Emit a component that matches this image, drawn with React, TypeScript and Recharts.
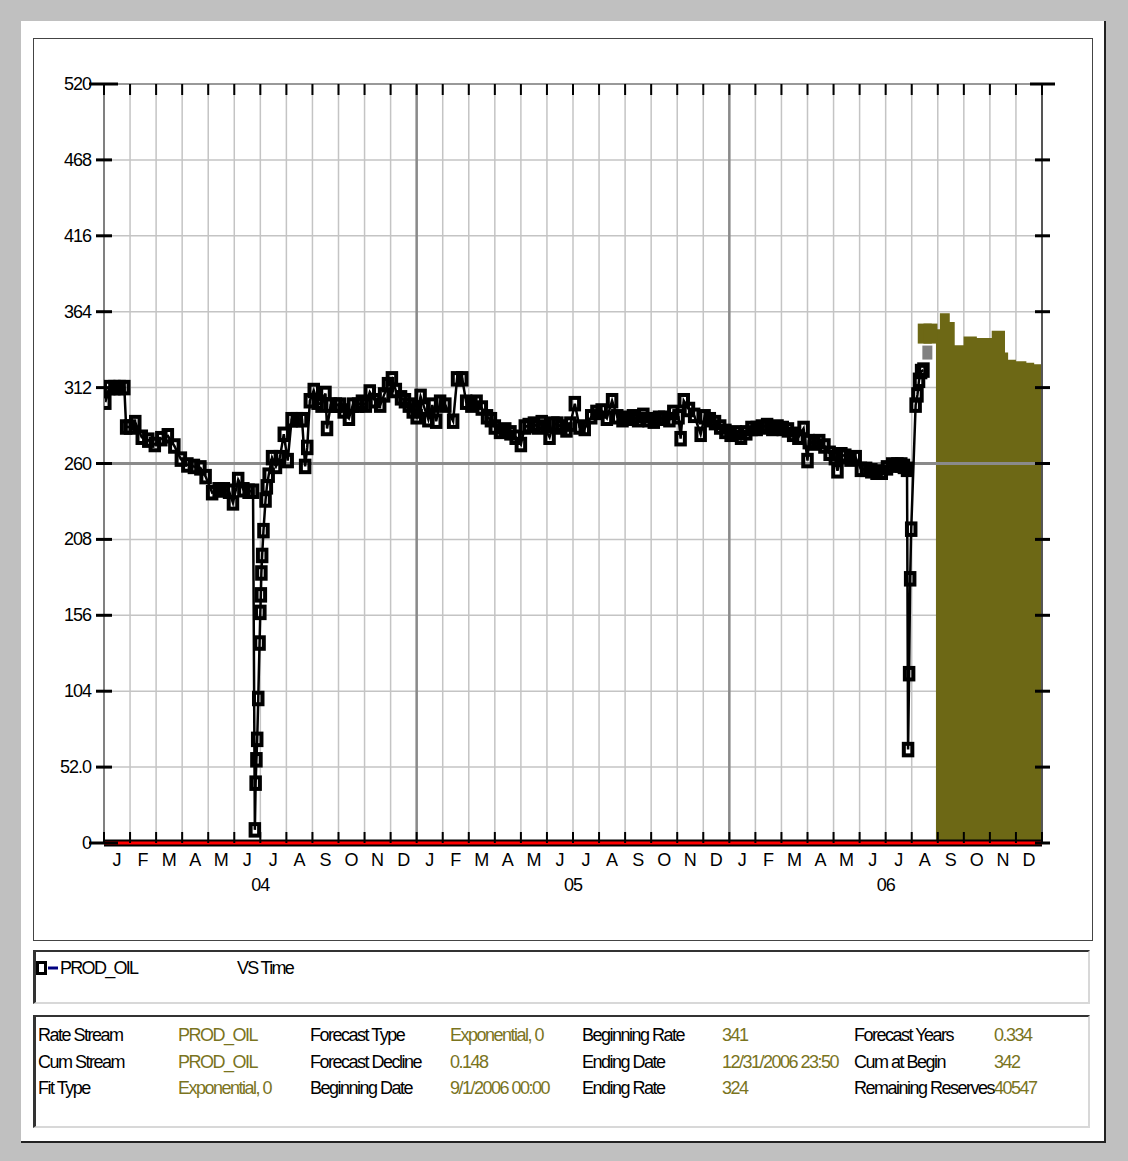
import React from "react";
import { ComposedChart, Line, Area, Scatter, XAxis, YAxis, CartesianGrid, ReferenceLine } from "recharts";

const monthLetters = ["J", "F", "M", "A", "M", "J", "J", "A", "S", "O", "N", "D"];
const yearLabels = ["04", "05", "06"];
const yTicks = [0, 52, 104, 156, 208, 260, 312, 364, 416, 468, 520];

// months since 1 Jan 2004
const prodMonths = [
  0.05, 0.2, 0.4, 0.6, 0.78, 0.85,
  1.0, 1.2, 1.45, 1.7,
  1.95, 2.2, 2.45, 2.7,
  2.95, 3.2, 3.45, 3.7,
  3.9, 4.15, 4.4, 4.6, 4.8,
  4.95, 5.15, 5.35, 5.55, 5.72,
  5.79, 5.82, 5.85, 5.88, 5.92, 5.97, 6.0, 6.02, 6.04, 6.07, 6.12, 6.2, 6.25,
  6.32, 6.45, 6.6, 6.75, 6.9,
  7.05, 7.2, 7.4, 7.6, 7.72, 7.8, 7.9,
  8.05, 8.2, 8.35, 8.5, 8.56, 8.7, 8.9,
  9.05, 9.2, 9.4, 9.55, 9.75, 9.9,
  10.05, 10.2, 10.4, 10.6, 10.75, 10.9,
  11.05, 11.2, 11.4, 11.55, 11.7, 11.85,
  12.0, 12.15, 12.3, 12.45, 12.6, 12.75, 12.9,
  13.1, 13.4, 13.55, 13.75, 13.9,
  14.1, 14.3, 14.5, 14.7, 14.85,
  15.0, 15.2, 15.4, 15.6, 15.8,
  16.0, 16.15, 16.3, 16.5, 16.65, 16.8,
  17.1, 17.25, 17.4, 17.55, 17.75, 17.9,
  18.07, 18.25, 18.45, 18.7, 18.9,
  19.1, 19.3, 19.5, 19.7, 19.9,
  20.1, 20.3, 20.5, 20.7, 20.9,
  21.1, 21.3, 21.5, 21.7, 21.85,
  22.05, 22.13, 22.25, 22.45, 22.65, 22.9,
  23.05, 23.25, 23.45, 23.65, 23.85,
  24.05, 24.25, 24.45, 24.65, 24.85,
  25.05, 25.25, 25.45, 25.65, 25.85,
  26.05, 26.25, 26.45, 26.65, 26.85,
  27.0, 27.05, 27.25, 27.45, 27.65, 27.85,
  28.05, 28.15, 28.3, 28.45, 28.65, 28.85,
  29.05, 29.25, 29.45, 29.65, 29.85,
  30.05, 30.25, 30.45, 30.6, 30.7, 30.82,
  30.86, 30.9, 30.94, 30.98, 31.15, 31.22, 31.28, 31.36, 31.45,
];
const prodOil = [
  302, 312, 312, 312, 312, 285,
  285, 288, 278, 276,
  273, 277, 279, 272,
  263, 259, 258, 257,
  251, 240, 242, 242, 241,
  233, 249, 242, 241, 241,
  9, 41, 57, 71, 99, 137, 158, 170, 185, 197, 214, 235, 244,
  252, 264, 258, 264, 280,
  262, 290, 290, 290, 258, 271, 303,
  310, 302, 300, 308, 284, 300, 300,
  300, 296, 291, 300, 300, 302,
  300, 309, 303, 300, 307, 314,
  318, 310, 305, 303, 300, 296,
  292, 306, 298, 290, 300, 289, 302,
  300, 289, 318, 318, 302,
  300, 302, 298, 292, 290,
  285, 282, 283, 281, 278,
  273, 285, 286, 287, 285, 288,
  278, 287, 287, 285, 283, 287,
  301, 285, 284, 292, 295,
  296, 291, 303, 292, 290,
  291, 292, 290, 293, 290,
  289, 291, 291, 290, 295,
  292, 277, 303, 297, 293, 280,
  292, 290, 288, 285, 282,
  280, 281, 278, 281, 284,
  284, 285, 286, 284, 285,
  284, 283, 280, 278, 284,
  262, 275, 274, 275, 272, 267,
  264, 255, 266, 265, 263, 264,
  256, 256, 255, 254, 254,
  257, 259, 259, 259, 258, 256,
  64, 116, 181, 215, 300, 307, 317, 323, 324,
];

const forecastMonths = [31.93, 32.08, 32.46, 32.65, 32.99, 33.5, 34.07, 34.58, 34.7, 35.0, 35.4, 35.7, 36.0];
const forecastRate = [352, 363, 357, 341, 347, 346, 351, 336, 331, 330, 329, 328, 327];

const startMonths = [31.5, 31.72];
const startRate = [349, 349];

const fitMonths = [31.6];
const fitRate = [336];

const infoColumns = [
  [["Rate Stream", "PROD_OIL"], ["Cum Stream", "PROD_OIL"], ["Fit Type", "Exponential, 0"]],
  [["Forecast Type", "Exponential, 0"], ["Forecast Decline", "0.148"], ["Beginning Date", "9/1/2006 00:00"]],
  [["Beginning Rate", "341"], ["Ending Date", "12/31/2006 23:50"], ["Ending Rate", "324"]],
  [["Forecast Years", "0.334"], ["Cum at Begin", "342"], ["Remaining Reserves", "40547"]],
];

const OLIVE = "#6d6815";
const VALUE_COLOR = "#7a741e";
const FONT = "'Liberation Sans', Arial, sans-serif";

const prodData = prodMonths.map((m, i) => ({ m, v: prodOil[i] }));
const forecastData = forecastMonths.map((m, i) => ({ m, v: forecastRate[i] }));
const startData = startMonths.map((m, i) => ({ m, v: startRate[i] }));
const fitData = fitMonths.map((m, i) => ({ m, v: fitRate[i] }));

const nMonths = monthLetters.length * yearLabels.length;
const boundaryTicks = Array.from({ length: nMonths + 1 }, (_, i) => i);
const bottomTicks = [...boundaryTicks, ...boundaryTicks.slice(0, nMonths).map((i) => i + 0.5)].sort((a, b) => a - b);
const yearLines = yearLabels.slice(1).map((_, i) => (i + 1) * 12);

function BottomTick(props: any) {
  const { x, y, payload } = props;
  const v = payload.value;
  if (Number.isInteger(v)) {
    const yr = v % 12 === 6 ? yearLabels[Math.floor(v / 12)] : null;
    return (
      <g>
        <line x1={x} x2={x} y1={y - 11} y2={y} stroke="#000" strokeWidth={2} />
        {yr && (
          <text x={x} y={y + 42} textAnchor="middle" dominantBaseline="central" fontSize={18} letterSpacing={-1} fill="#000" fontFamily={FONT}>
            {yr}
          </text>
        )}
      </g>
    );
  }
  return (
    <text x={x} y={y + 17} textAnchor="middle" dominantBaseline="central" fontSize={18} fill="#000" fontFamily={FONT}>
      {monthLetters[Math.floor(v) % 12]}
    </text>
  );
}

function TopTick(props: any) {
  const { x, y } = props;
  return <line x1={x} x2={x} y1={y} y2={y + 11} stroke="#000" strokeWidth={2} />;
}

function LeftTick(props: any) {
  const { x, y, payload } = props;
  const v = payload.value;
  const long = v === 0 || v === 520;
  const label = v === 52 ? "52.0" : String(v);
  return (
    <g>
      <line x1={long ? x - 15 : x - 8} x2={long ? x + 14 : x + 8} y1={y} y2={y} stroke="#000" strokeWidth={3} />
      <text x={x - 13} y={y} textAnchor="end" dominantBaseline="central" fontSize={18} letterSpacing={-1} fill="#000" fontFamily={FONT}>
        {label}
      </text>
    </g>
  );
}

function RightTick(props: any) {
  const { x, y, payload } = props;
  const long = payload.value === 520;
  return <line x1={long ? x - 12 : x - 7} x2={long ? x + 13 : x + 8} y1={y} y2={y} stroke="#000" strokeWidth={3} />;
}

const textStyle: React.CSSProperties = {
  position: "absolute",
  fontFamily: FONT,
  fontSize: 18,
  lineHeight: "20px",
  letterSpacing: -1.5,
  whiteSpace: "nowrap",
};

const boxStyle: React.CSSProperties = {
  position: "absolute",
  boxSizing: "border-box",
  borderTop: "2px solid #333",
  borderLeft: "3px solid #333",
  borderRight: "2px solid #d8d8d8",
  borderBottom: "2px solid #d8d8d8",
  background: "#fff",
};

export default function App() {
  return (
    <div style={{ position: "relative", width: 1128, height: 1161, background: "#c0c0c0", overflow: "hidden" }}>
      <style>{"body{margin:0}"}</style>
      <div style={{ position: "absolute", left: 21, top: 21, width: 1085, height: 1122, boxSizing: "border-box", background: "#fff", borderRight: "2px solid #222", borderBottom: "2px solid #222" }} />
      <div style={{ position: "absolute", left: 33, top: 38, width: 1060, height: 903, boxSizing: "border-box", border: "1px solid #444" }} />
      <div style={{ position: "absolute", left: 33, top: 38 }}>
        <ComposedChart width={1060} height={902} margin={{ top: 45, right: 50, bottom: 37, left: 11 }}>
          <XAxis xAxisId="t" orientation="top" dataKey="m" type="number" domain={[0, 36]} allowDataOverflow ticks={boundaryTicks} interval={0} height={1} tickSize={0} tickMargin={0} tickLine={false} tick={<TopTick />} axisLine={{ stroke: "#999", strokeWidth: 2 }} />
          <XAxis xAxisId="b" orientation="bottom" dataKey="m" type="number" domain={[0, 36]} allowDataOverflow ticks={bottomTicks} interval={0} height={60} tickSize={0} tickMargin={0} tickLine={false} tick={<BottomTick />} axisLine={{ stroke: "#ff0000", strokeWidth: 3 }} />
          <YAxis yAxisId="l" orientation="left" type="number" domain={[0, 520]} allowDataOverflow ticks={yTicks} interval={0} width={60} tickSize={0} tickMargin={0} tickLine={false} tick={<LeftTick />} axisLine={{ stroke: "#808080", strokeWidth: 2 }} />
          <YAxis yAxisId="r" orientation="right" type="number" domain={[0, 520]} allowDataOverflow ticks={yTicks} interval={0} width={1} tickSize={0} tickMargin={0} tickLine={false} tick={<RightTick />} axisLine={{ stroke: "#555", strokeWidth: 2 }} />
          <CartesianGrid xAxisId="t" yAxisId="l" stroke="#c4c4c4" strokeWidth={1.5} />
          {yearLines.map((m) => (
            <ReferenceLine key={m} xAxisId="b" yAxisId="l" x={m} stroke="#8a8a8a" strokeWidth={2.5} />
          ))}
          <ReferenceLine xAxisId="b" yAxisId="l" y={260} stroke="#8a8a8a" strokeWidth={3} />
          <ReferenceLine xAxisId="b" yAxisId="l" y={0} stroke="#000" strokeWidth={7} />
          <Area xAxisId="t" yAxisId="r" data={forecastData} dataKey="v" type="stepAfter" baseValue={0} fill={OLIVE} fillOpacity={1} stroke="none" isAnimationActive={false} />
          <Scatter xAxisId="b" yAxisId="l" data={startData} dataKey="v" isAnimationActive={false}
            shape={(p: any) => <rect x={p.cx - 7} y={p.cy - 10} width={14} height={20} fill={OLIVE} />} />
          <Scatter xAxisId="b" yAxisId="l" data={fitData} dataKey="v" isAnimationActive={false}
            shape={(p: any) => <rect x={p.cx - 5} y={p.cy - 7} width={10} height={14} fill="#808080" />} />
          <Line xAxisId="b" yAxisId="l" data={prodData} dataKey="v" stroke="#000" strokeWidth={2.5} activeDot={false} isAnimationActive={false}
            dot={(p: any) => <rect key={`d${p.index}`} x={p.cx - 4.25} y={p.cy - 5.75} width={8.5} height={11.5} fill="none" stroke="#000" strokeWidth={4} />} />
        </ComposedChart>
      </div>

      <div style={{ ...boxStyle, left: 33, top: 950, width: 1057, height: 54 }}>
        <svg width={26} height={30} style={{ position: "absolute", left: 0, top: 7 }}>
          <rect x={1.5} y={3.5} width={8} height={11} fill="none" stroke="#000" strokeWidth={3} />
          <line x1={12} x2={22} y1={9} y2={9} stroke="#000080" strokeWidth={3} />
        </svg>
        <span style={{ ...textStyle, left: 24, top: 6, letterSpacing: -1.7 }}>PROD_OIL</span>
        <span style={{ ...textStyle, left: 201, top: 6, letterSpacing: -1.7 }}>VS Time</span>
      </div>

      <div style={{ ...boxStyle, left: 33, top: 1015, width: 1057, height: 113 }}>
        {infoColumns.map((col, ci) =>
          col.map(([label, value], ri) => (
            <React.Fragment key={`${ci}-${ri}`}>
              <span style={{ ...textStyle, left: 2 + ci * 272, top: 8 + ri * 26.5, color: "#000" }}>{label}</span>
              <span style={{ ...textStyle, left: 142 + ci * 272, top: 8 + ri * 26.5, color: VALUE_COLOR }}>{value}</span>
            </React.Fragment>
          ))
        )}
      </div>
    </div>
  );
}
